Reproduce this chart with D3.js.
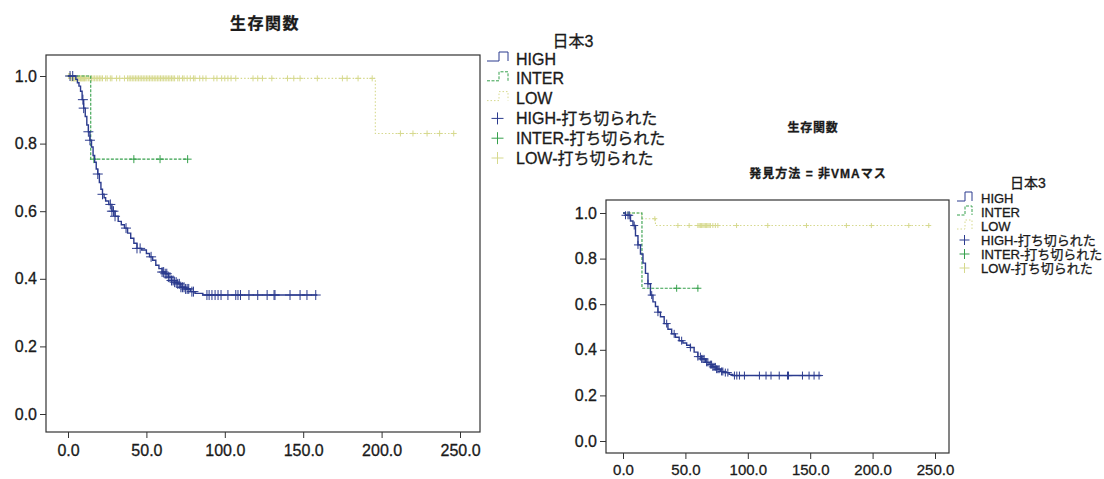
<!DOCTYPE html>
<html>
<head>
<meta charset="utf-8">
<script src="https://cdn.jsdelivr.net/npm/d3@7"></script>
<style>
  body { margin: 0; background: #fff; }
  svg { display: block; }
  text { font-family: "Liberation Sans", "Noto Sans CJK JP", sans-serif; fill: #1a1a1a; stroke: #1a1a1a; stroke-width: 0.3px; }
</style>
</head>
<body>
<svg id="km" width="1104" height="479"></svg>
<script>
const svg = d3.select('#km');

// axis ticks
const timeTicks = [0, 50, 100, 150, 200, 250];
const timeTickLabels = ['0.0', '50.0', '100.0', '150.0', '200.0', '250.0'];
const survTicks = [0, 0.2, 0.4, 0.6, 0.8, 1.0];
const survTickLabels = ['0.0', '0.2', '0.4', '0.6', '0.8', '1.0'];

const groups = ['HIGH', 'INTER', 'LOW'];
const legendTitle = '日本3';
const censorSuffix = '-打ち切られた';

// left panel: all patients
const highTimeA = [0, 5, 6, 7, 8, 9, 10, 11, 12, 13, 14, 15, 16, 17, 18, 19, 20, 21, 22, 23, 24, 26, 28, 30, 32, 34, 36, 38, 40, 42, 44, 47, 50, 52, 54, 56, 58, 60, 62, 64, 66, 68, 70, 72, 75, 78, 81, 86];
const highSurvA = [1.0, 0.99, 0.98, 0.97, 0.955, 0.93, 0.905, 0.88, 0.855, 0.835, 0.81, 0.79, 0.765, 0.745, 0.725, 0.71, 0.685, 0.665, 0.65, 0.64, 0.63, 0.62, 0.60, 0.585, 0.57, 0.56, 0.55, 0.535, 0.52, 0.505, 0.49, 0.485, 0.475, 0.465, 0.455, 0.44, 0.43, 0.42, 0.415, 0.405, 0.395, 0.39, 0.385, 0.375, 0.37, 0.362, 0.357, 0.352];
const highEndA = 159;
const highCensorA = [1.3, 3, 9.5, 10, 13, 14, 19, 22, 27, 28, 29, 30, 37, 44, 46, 53, 60, 61, 62, 63, 64, 65, 66, 67, 68, 69, 70, 71, 72, 73, 74, 75, 76, 77, 79, 80, 88.6, 90, 91.8, 93.8, 95.7, 97.6, 102, 107, 108.4, 110, 115.4, 121, 127, 131.4, 132, 141.6, 148, 152.4, 158];

const interTimeA = [0, 14.5];
const interSurvA = [1.0, 0.754];
const interEndA = 76.5;
const interCensorA = [16.5, 42, 58.7, 76.3];

const lowTimeA = [0, 2, 196];
const lowSurvA = [1.0, 0.993, 0.83];
const lowEndA = 247;
const lowCensorA = [0.5, 1, 1.5, 2, 2.5, 3, 3.5, 4, 4.5, 5, 5.5, 6, 6.5, 7, 7.5, 8, 8.5, 9, 9.5, 10, 10.5, 11, 12, 13, 14, 15, 16, 17, 18, 19, 20, 21, 22, 24, 25, 27, 28, 31, 33, 36, 38, 39, 40, 41, 42, 43, 44, 45, 46, 47, 48, 49, 50, 51, 52, 53, 54, 55, 56, 57, 58, 59, 60, 61, 62, 63, 64, 65, 66, 67, 68, 70, 71, 73, 74, 76, 78, 80, 81, 84, 86, 88, 93, 95, 98, 100, 102, 104, 107, 118, 121, 124, 130, 140, 144, 148, 159, 175, 178, 185, 194, 212, 220, 229, 237, 246];

// right panel: 発見方法 = 非VMAマス
const highTimeB = [0, 2, 6, 8, 10, 12, 14, 16, 18, 20, 22, 24, 26, 28, 30, 33, 36, 39, 42, 45, 48, 51, 54, 57, 60, 63, 66, 69, 72, 75, 78, 81, 85, 88];
const highSurvB = [1.0, 0.99, 0.965, 0.945, 0.9, 0.86, 0.82, 0.78, 0.735, 0.69, 0.64, 0.61, 0.59, 0.565, 0.545, 0.515, 0.49, 0.47, 0.455, 0.44, 0.43, 0.42, 0.41, 0.39, 0.37, 0.36, 0.345, 0.335, 0.325, 0.315, 0.305, 0.30, 0.292, 0.287];
const highEndB = 159;
const highCensorB = [2, 4, 5, 9, 12, 20, 23, 28, 35, 41, 47, 54, 60, 62, 63, 64, 65, 67, 68, 70, 71, 72, 73, 74, 75, 76, 77, 79, 80, 82, 84, 89.3, 91.2, 93.3, 97.3, 109.3, 114.6, 118.6, 125.2, 131.8, 132.6, 143.8, 149.1, 153.1, 157.1];

const interTimeB = [0, 15.2];
const interSurvB = [1.0, 0.67];
const interEndB = 60.5;
const interCensorB = [43, 60];

const lowTimeB = [0, 15, 26];
const lowSurvB = [1.0, 0.975, 0.945];
const lowEndB = 248;
const lowCensorB = [25.5, 44, 53, 60, 61, 62, 63, 64, 65, 66, 67, 68, 69, 70, 72, 74, 76, 91, 116, 147, 179, 199, 229, 245];

// styles per group
const color = { HIGH: '#2b3b8e', INTER: '#36a04c', LOW: '#d6d98e' };
const dash = { HIGH: null, INTER: '3,1.5', LOW: '1.5,2' };
const lineW = { HIGH: 1.4, INTER: 1.1, LOW: 1.1 };

const stepLine = d3.line().curve(d3.curveStepAfter);

const survAt = (times, surv, t) => surv[d3.bisectRight(times, t) - 1];

const drawPanel = p => {
  const xScale = d3.scaleLinear().domain([0, 250]).range(p.xRange);
  const yScale = d3.scaleLinear().domain([0, 1]).range(p.yRange);
  const g = svg.append('g');

  g.append('rect')
    .attr('x', p.frame[0]).attr('y', p.frame[1])
    .attr('width', p.frame[2] - p.frame[0]).attr('height', p.frame[3] - p.frame[1])
    .attr('fill', 'none').attr('stroke', '#333').attr('stroke-width', 1.2);

  g.append('g')
    .attr('transform', `translate(${p.frame[0]},0)`)
    .call(d3.axisLeft(yScale).tickValues(survTicks)
      .tickFormat((d, i) => survTickLabels[i]).tickSize(6).tickPadding(3))
    .call(a => a.select('.domain').remove())
    .call(a => a.selectAll('line').attr('stroke', '#333'))
    .call(a => a.selectAll('text').attr('font-size', '16px'));

  g.append('g')
    .attr('transform', `translate(0,${p.frame[3]})`)
    .call(d3.axisBottom(xScale).tickValues(timeTicks)
      .tickFormat((d, i) => timeTickLabels[i]).tickSize(6).tickPadding(p.xPad))
    .call(a => a.select('.domain').remove())
    .call(a => a.selectAll('line').attr('stroke', '#333'))
    .call(a => a.selectAll('text').attr('font-size', p.xFont + 'px'));

  p.series.forEach(s => {
    const pts = s.times.map((t, i) => [xScale(t), yScale(s.surv[i])]);
    pts.push([xScale(s.end), yScale(s.surv[s.surv.length - 1])]);
    g.append('path')
      .attr('d', stepLine(pts))
      .attr('fill', 'none')
      .attr('stroke', color[s.name])
      .attr('stroke-width', lineW[s.name])
      .attr('stroke-dasharray', dash[s.name]);

    const h = s.mark;
    g.append('g').selectAll('path').data(s.censor)
      .enter().append('path')
      .attr('d', t => {
        const cx = xScale(t), cy = yScale(survAt(s.times, s.surv, t));
        return `M${cx - h},${cy}H${cx + h}M${cx},${cy - h}V${cy + h}`;
      })
      .attr('stroke', color[s.name])
      .attr('stroke-width', 1)
      .attr('fill', 'none');
  });

  p.titles.forEach(tt => {
    g.append('text')
      .attr('x', tt.x).attr('y', tt.y)
      .attr('text-anchor', 'middle')
      .attr('dominant-baseline', 'central')
      .attr('font-size', tt.size + 'px')
      .attr('font-weight', 'bold')
      .attr('letter-spacing', tt.ls + 'px')
      .text(tt.text);
  });

  // legend
  const L = p.legend;
  g.append('text')
    .attr('x', L.titleX).attr('y', L.titleY)
    .attr('text-anchor', 'middle').attr('dominant-baseline', 'central')
    .attr('font-size', L.titleSize + 'px')
    .text(legendTitle);

  const items = groups.map(d => ({ name: d, censor: false, label: d }))
    .concat(groups.map(d => ({ name: d, censor: true, label: d + censorSuffix })));

  const row = g.selectAll('.leg').data(items).enter().append('g')
    .attr('transform', (d, i) => `translate(0,${L.y0 + i * L.step})`);

  row.append('text')
    .attr('x', L.textX).attr('y', 0)
    .attr('dominant-baseline', 'central')
    .attr('font-size', L.size + 'px')
    .text(d => d.label);

  row.append('path')
    .attr('d', d => {
      const [a, b, c] = L.sym;
      if (d.censor) {
        const m = (a + c) / 2, h = L.plus;
        return `M${m - h},0H${m + h}M${m},${-h}V${h}`;
      }
      return `M${a},${L.yb}H${b}V${L.yt}H${c}V${L.yb}`;
    })
    .attr('fill', 'none')
    .attr('stroke', d => color[d.name])
    .attr('stroke-width', 1)
    .attr('stroke-dasharray', d => d.censor ? null : dash[d.name]);
};

drawPanel({
  frame: [46, 55, 480, 432],
  xRange: [68, 460],
  yRange: [414, 76],
  xPad: 7,
  xFont: 16,
  series: [
    { name: 'LOW', times: lowTimeA, surv: lowSurvA, end: lowEndA, censor: lowCensorA, mark: 3 },
    { name: 'INTER', times: interTimeA, surv: interSurvA, end: interEndA, censor: interCensorA, mark: 4 },
    { name: 'HIGH', times: highTimeA, surv: highSurvA, end: highEndA, censor: highCensorA, mark: 5 }
  ],
  titles: [{ text: '生存関数', x: 265, y: 23, size: 16, ls: 1.5 }],
  legend: {
    titleX: 573, titleY: 41, titleSize: 16,
    textX: 516, y0: 59, step: 19.8, size: 16,
    sym: [487, 499, 508], yb: 2, yt: -7, plus: 6
  }
});

drawPanel({
  frame: [606, 200, 949, 453],
  xRange: [623, 935],
  yRange: [441, 213],
  xPad: 5,
  xFont: 15,
  series: [
    { name: 'LOW', times: lowTimeB, surv: lowSurvB, end: lowEndB, censor: lowCensorB, mark: 2.5 },
    { name: 'INTER', times: interTimeB, surv: interSurvB, end: interEndB, censor: interCensorB, mark: 3.5 },
    { name: 'HIGH', times: highTimeB, surv: highSurvB, end: highEndB, censor: highCensorB, mark: 4 }
  ],
  titles: [
    { text: '生存関数', x: 813, y: 128, size: 12, ls: 0.8 },
    { text: '発見方法 = 非VMAマス', x: 818, y: 174, size: 12, ls: 1 }
  ],
  legend: {
    titleX: 1028, titleY: 183, titleSize: 14,
    textX: 981, y0: 198, step: 14, size: 13,
    sym: [957, 965, 972], yb: 3, yt: -6, plus: 5
  }
});
</script>
</body>
</html>
